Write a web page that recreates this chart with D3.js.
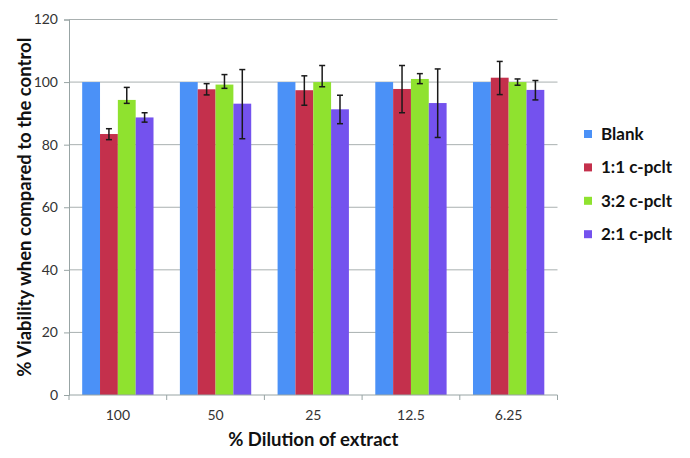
<!DOCTYPE html>
<html>
<head>
<meta charset="utf-8">
<script src="https://cdn.jsdelivr.net/npm/d3@7"></script>
<style>
  body { margin: 0; background: #fff; }
  svg text { font-family: Lato, "Open Sans", sans-serif; }
</style>
</head>
<body>
<svg id="chart" width="690" height="458"></svg>
<script>
// categories (x axis) and series
const dilutions = ["100", "50", "25", "12.5", "6.25"];
const seriesNames = ["Blank", "1:1 c-pclt", "3:2 c-pclt", "2:1 c-pclt"];
const seriesColors = ["#4b91f7", "#c4304c", "#8fe22f", "#7452ee"];

// bar values, one array per series
const blank = [100, 100, 100, 100, 100];
const pclt11 = [83.4, 97.7, 97.4, 97.8, 101.4];
const pclt32 = [94.3, 99.2, 100, 101, 100];
const pclt21 = [88.7, 93.1, 91.3, 93.3, 97.5];

// error bars (plus / minus), null = no bar
const errPlus = [
    null,
    [1.7, 1.8, 4.6, 7.5, 5.2],
    [4.0, 3.2, 5.3, 1.7, 1.0],
    [1.5, 10.9, 4.5, 10.9, 3.0]
];
const errMinus = [
    null,
    [1.8, 1.8, 4.8, 7.6, 5.4],
    [1.1, 1.2, 1.5, 1.5, 1.0],
    [1.5, 11.2, 4.6, 11.0, 3.2]
];

const yTicks = [0, 20, 40, 60, 80, 100, 120];

const values = [blank, pclt11, pclt32, pclt21];

let svg = d3.select("#chart");
let plotLeft = 69, plotRight = 557.5, plotTop = 19.5, plotBottom = 395;

let x = d3.scaleBand()
    .domain(dilutions)
    .range([plotLeft, plotRight])
    .paddingInner(0.27)
    .paddingOuter(0.135);

let xInner = d3.scaleBand()
    .domain(d3.range(seriesNames.length))
    .range([0, x.bandwidth()]);

let y = d3.scaleLinear().domain([0, 120]).range([plotBottom, plotTop]);

// gridlines
svg.append("g").selectAll("line")
    .data(yTicks.slice(1))
    .enter().append("line")
    .attr("x1", plotLeft).attr("x2", plotRight)
    .attr("y1", d => y(d)).attr("y2", d => y(d))
    .attr("stroke", "#a9b0b0")
    .attr("stroke-width", 1);

// y axis
let yAxis = svg.append("g")
    .attr("transform", "translate(" + plotLeft + ",0)")
    .call(d3.axisLeft(y).tickValues(yTicks).tickSize(5).tickPadding(6));
yAxis.select(".domain").attr("stroke", "#98a4a4");
yAxis.selectAll(".tick line").attr("stroke", "#98a4a4");
yAxis.selectAll("text").attr("font-size", 14).attr("fill", "#333");

// bars
let groups = svg.append("g").selectAll("g")
    .data(dilutions)
    .enter().append("g")
    .attr("transform", d => "translate(" + x(d) + ",0)");

groups.selectAll("rect")
    .data((d, i) => values.map((s, k) => ({ k: k, v: s[i] })))
    .enter().append("rect")
    .attr("x", d => xInner(d.k))
    .attr("width", xInner.bandwidth())
    .attr("y", d => y(d.v))
    .attr("height", d => y(0) - y(d.v))
    .attr("fill", d => seriesColors[d.k]);

// error bars
let errData = [];
dilutions.forEach(function(c, i) {
    values.forEach(function(s, k) {
        if (errPlus[k]) {
            errData.push({ c: c, k: k, hi: s[i] + errPlus[k][i], lo: s[i] - errMinus[k][i] });
        }
    });
});
let eb = svg.append("g").selectAll("g")
    .data(errData)
    .enter().append("g")
    .attr("stroke", "#1a1a1a")
    .attr("stroke-width", 1.5);
let cx = d => x(d.c) + xInner(d.k) + xInner.bandwidth() / 2;
eb.append("line")
    .attr("x1", cx).attr("x2", cx)
    .attr("y1", d => y(d.hi)).attr("y2", d => y(d.lo));
eb.append("line")
    .attr("x1", d => cx(d) - 3).attr("x2", d => cx(d) + 3)
    .attr("y1", d => y(d.hi)).attr("y2", d => y(d.hi));
eb.append("line")
    .attr("x1", d => cx(d) - 3).attr("x2", d => cx(d) + 3)
    .attr("y1", d => y(d.lo)).attr("y2", d => y(d.lo));

// x axis (ticks between categories)
let xAxisG = svg.append("g").attr("transform", "translate(0," + plotBottom + ")");
xAxisG.append("line")
    .attr("x1", plotLeft).attr("x2", plotRight)
    .attr("stroke", "#98a4a4");
let bounds = dilutions.map(d => x(d) - x.step() * x.paddingInner() / 2).concat([plotRight]);
xAxisG.selectAll("line.tk")
    .data(bounds)
    .enter().append("line")
    .attr("class", "tk")
    .attr("x1", d => d).attr("x2", d => d)
    .attr("y1", 0).attr("y2", 5)
    .attr("stroke", "#98a4a4");
xAxisG.selectAll("text")
    .data(dilutions)
    .enter().append("text")
    .attr("x", d => x(d) + x.bandwidth() / 2)
    .attr("y", 25)
    .attr("text-anchor", "middle")
    .attr("font-size", 14)
    .attr("fill", "#333")
    .text(d => d);

// axis titles
svg.append("text")
    .attr("x", (plotLeft + plotRight) / 2)
    .attr("y", 446)
    .attr("text-anchor", "middle")
    .attr("font-size", 18.5)
    .attr("font-weight", "bold")
    .attr("fill", "#111")
    .text("% Dilution of extract");

svg.append("text")
    .attr("transform", "translate(31," + (plotTop + plotBottom) / 2 + ") rotate(-90)")
    .attr("text-anchor", "middle")
    .attr("font-size", 18.5)
    .attr("font-weight", "bold")
    .attr("fill", "#111")
    .text("% Viability when compared to the control");

// legend
let legend = svg.append("g").selectAll("g")
    .data(seriesNames)
    .enter().append("g")
    .attr("transform", (d, i) => "translate(584," + (134 + i * 33.4) + ")");
legend.append("rect")
    .attr("x", 0).attr("y", -4)
    .attr("width", 8).attr("height", 8)
    .attr("fill", (d, i) => seriesColors[i]);
legend.append("text")
    .attr("x", 17).attr("y", 6)
    .attr("font-size", 17)
    .attr("font-weight", "bold")
    .attr("fill", "#111")
    .text(d => d);
</script>
</body>
</html>
